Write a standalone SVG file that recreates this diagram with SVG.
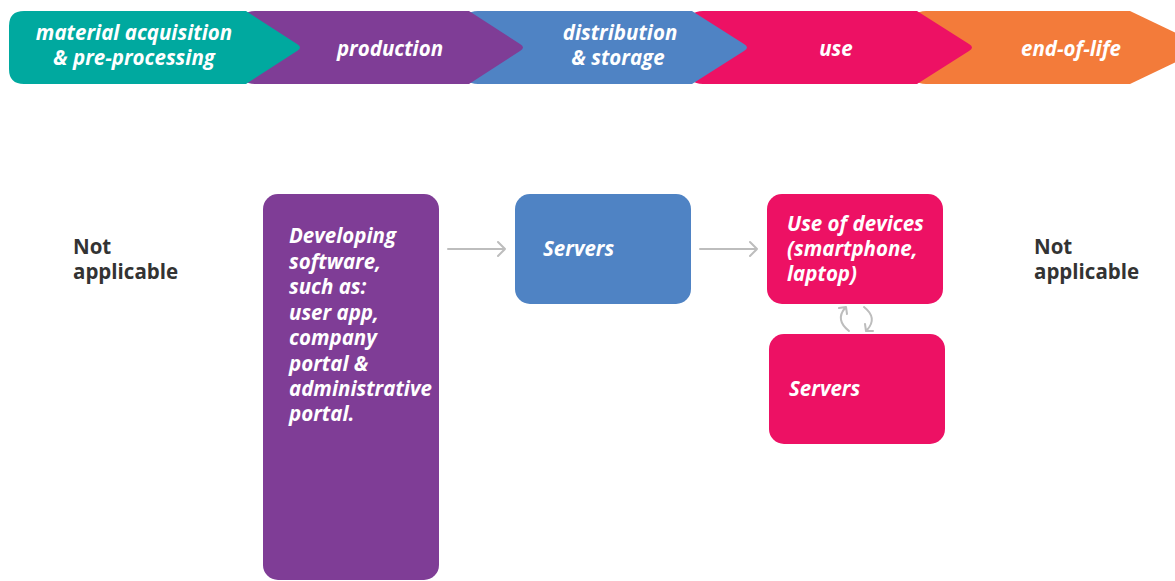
<svg xmlns="http://www.w3.org/2000/svg" width="1175" height="581" viewBox="0 0 1175 581">
<style>
.lbl{font-family:"Open Sans","Liberation Sans",sans-serif;font-weight:700;font-style:italic;font-size:20.5px;fill:#ffffff}
.hdr{text-anchor:middle}
.na{font-family:"Open Sans","Liberation Sans",sans-serif;font-weight:700;font-size:20.5px;fill:#333333}
.conn{fill:none;stroke:#BDBDBD;stroke-width:2;stroke-linecap:round;stroke-linejoin:round}
</style>
<rect width="1175" height="581" fill="#ffffff"/>
<g id="stage-end-of-life">
<path d="M926 11 H1130 L1199 44 Q1205 47.5 1199 51 L1130 84 H926 Q911 84 911 69 V26 Q911 11 926 11 Z" fill="#F37B3A"/>
<text class="lbl hdr" x="1071" y="56">end-of-life</text>
</g>
<g id="stage-use">
<path d="M703 11 H917 L969 44 Q975 47.5 969 51 L917 84 H703 Q688 84 688 69 V26 Q688 11 703 11 Z" fill="#ED1164"/>
<text class="lbl hdr" x="836" y="56">use</text>
</g>
<g id="stage-distribution">
<path d="M478 11 H692 L744 44 Q750 47.5 744 51 L692 84 H478 Q463 84 463 69 V26 Q463 11 478 11 Z" fill="#4F83C4"/>
<text class="lbl hdr" x="620" y="40">distribution</text>
<text class="lbl hdr" x="618" y="65">&amp; storage</text>
</g>
<g id="stage-production">
<path d="M255 11 H469 L520 44 Q526 47.5 520 51 L469 84 H255 Q240 84 240 69 V26 Q240 11 255 11 Z" fill="#7F3D96"/>
<text class="lbl hdr" x="390" y="56">production</text>
</g>
<g id="stage-material">
<path d="M24 11 H246 L297 44 Q303 47.5 297 51 L246 84 H24 Q9 84 9 69 V26 Q9 11 24 11 Z" fill="#00A99F"/>
<text class="lbl hdr" x="134" y="40">material acquisition</text>
<text class="lbl hdr" x="134" y="65">&amp; pre-processing</text>
</g>
<g id="na-left">
<text class="na" x="73" y="254">Not</text>
<text class="na" x="73" y="279">applicable</text>
</g>
<g id="na-right">
<text class="na" x="1034" y="254">Not</text>
<text class="na" x="1034" y="279">applicable</text>
</g>
<g id="developing">
<rect x="263" y="194" width="176" height="386" rx="15" fill="#7F3D96"/>
<text class="lbl" x="289" y="243">Developing</text>
<text class="lbl" x="289" y="269">software,</text>
<text class="lbl" x="289" y="294">such as:</text>
<text class="lbl" x="289" y="320">user app,</text>
<text class="lbl" x="289" y="345">company</text>
<text class="lbl" x="289" y="371">portal &amp;</text>
<text class="lbl" x="289" y="396">administrative</text>
<text class="lbl" x="289" y="421">portal.</text>
</g>
<g id="servers-distribution">
<rect x="515" y="194" width="176" height="110" rx="15" fill="#4F83C4"/>
<text class="lbl" x="543" y="256">Servers</text>
</g>
<g id="use-devices">
<rect x="767" y="194" width="176" height="110" rx="15" fill="#ED1164"/>
<text class="lbl" x="787" y="231">Use of devices</text>
<text class="lbl" x="787" y="256">(smartphone,</text>
<text class="lbl" x="787" y="281">laptop)</text>
</g>
<g id="servers-use">
<rect x="769" y="334" width="176" height="110" rx="15" fill="#ED1164"/>
<text class="lbl" x="789" y="396">Servers</text>
</g>
<g id="connectors">
<path class="conn" d="M448 249 H505 M498 242 L505 249 L498 256"/>
<path class="conn" d="M700 249 H757 M750 242 L757 249 L750 256"/>
<path class="conn" d="M849 331 Q835 320 845 308 M839 308 L846 307 L847 314"/>
<path class="conn" d="M864 307 Q878 318 867 330 M873 331 L866 331 L865 324"/>
</g>
</svg>
